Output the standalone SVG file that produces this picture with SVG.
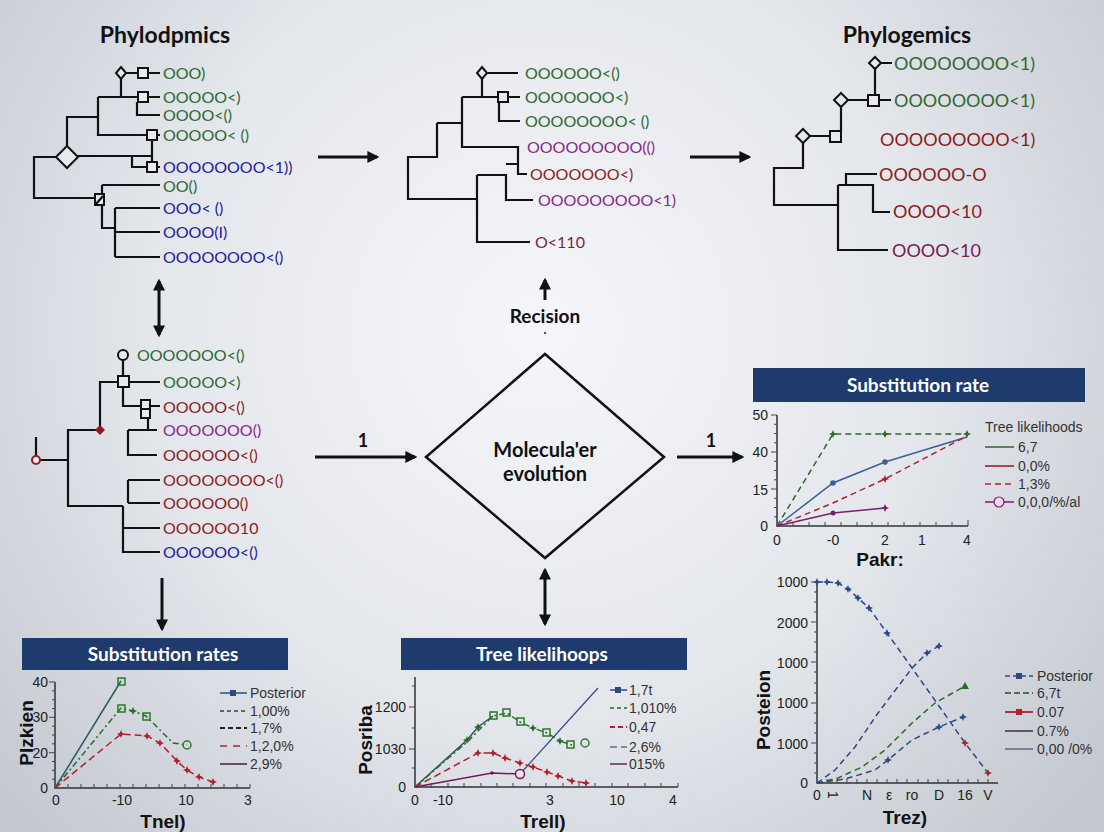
<svg xmlns="http://www.w3.org/2000/svg" xmlns:xlink="http://www.w3.org/1999/xlink" width="1104" height="832" viewBox="0 0 1104 832">
<defs>
<radialGradient id="bg" cx="540" cy="330" r="720" gradientUnits="userSpaceOnUse">
<stop offset="0" stop-color="#f5f6f9"/>
<stop offset="0.55" stop-color="#e3e6eb"/>
<stop offset="1" stop-color="#c3c7cf"/>
</radialGradient>
<marker id="ah" viewBox="0 0 10 10" refX="8" refY="5" markerWidth="4" markerHeight="4" orient="auto-start-reverse">
<path d="M0,0 L10,5 L0,10 Z" fill="#111"/>
</marker>
<path id="star" d="M0,-4 L1.2,-1.2 4,0 1.2,1.2 0,4 -1.2,1.2 -4,0 -1.2,-1.2Z"/>
<rect id="sq" x="-3" y="-3" width="6" height="6"/>
<style>
.ttl{font-family:Lato,"Open Sans",sans-serif;font-weight:bold;fill:#111}
.leaf{font-family:Lato,"Open Sans",sans-serif;font-size:16px}
.big{font-size:18px}
.g{fill:#2e6a32}.b{fill:#1d1d9e}.r{fill:#8c1c22}.p{fill:#8a2a8a}.pr{fill:#7b1c4c}
.tr{stroke:#111;stroke-width:2.2;fill:none}
.mk{fill:#e8eaee;stroke:#111;stroke-width:2}
.con{stroke:#111;stroke-width:3;fill:none}
.ban{fill:#1f3a6d}
.bt{font-family:Lato,"Open Sans",sans-serif;font-weight:bold;font-size:19px;fill:#fff;text-anchor:middle}
.ax{stroke:#333;stroke-width:1.5;fill:none}
.tk{stroke:#444;stroke-width:1;fill:none}
.al{font-family:"Liberation Sans",Arial,sans-serif;font-size:14px;fill:#222}
.lg{font-family:"Liberation Sans",Arial,sans-serif;font-size:14px;fill:#333}
.at{font-family:"Liberation Sans",Arial,sans-serif;font-weight:bold;font-size:19px;fill:#111;text-anchor:middle}
.d{fill:none;stroke-width:1.5}
</style>
</defs>
<rect width="1104" height="832" fill="url(#bg)"/>

<!-- Top-left tree -->
<g id="tree-phylodpmics">
<text class="ttl" x="165" y="43" font-size="23" text-anchor="middle">Phylodpmics</text>
<path class="tr" d="M121,78V97M98,97H139M148,97H160M137,102V115H160M98,97V135H147M157,135H160M98,117H67V147M77,156H152M152,140V162M132,156V167H147M157,167H160M57,157H34V198H95M102,185H160M102,185V228H115M115,208V257M115,208H160M115,232H160M115,257H160M126,73H138M148,73H160"/>
<path class="mk" d="M121,67L126,73L121,79L116,73Z"/>
<rect class="mk" x="138" y="68" width="10" height="10"/>
<rect class="mk" x="138" y="92" width="10" height="10"/>
<rect class="mk" x="147" y="130" width="10" height="10"/>
<rect class="mk" x="147" y="162" width="10" height="10"/>
<path class="mk" d="M67,146L78,157L67,168L56,157Z"/>
<rect class="mk" x="95" y="194" width="9" height="11"/>
<path class="tr" d="M96,204L103,196"/>
<text class="leaf g" x="163" y="79">OOO)</text>
<text class="leaf g" x="163" y="103">OOOOO&lt;)</text>
<text class="leaf g" x="163" y="121">OOOO&lt;()</text>
<text class="leaf g" x="163" y="141">OOOOO&lt; ()</text>
<text class="leaf b" x="163" y="173">OOOOOOOO&lt;1))</text>
<text class="leaf g" x="163" y="192">OO()</text>
<text class="leaf b" x="163" y="214">OOO&lt; ()</text>
<text class="leaf b" x="163" y="238">OOOO(I)</text>
<text class="leaf b" x="163" y="263">OOOOOOOO&lt;()</text>
</g>

<!-- Top-middle tree -->
<g id="tree-middle">
<path class="tr" d="M487,73H518M482,78V97M462,97H498M508,97H520M499,102V121H520M462,97V147H518V174H527M437,123H462M437,123V157H408V199H477M477,175V242H530M477,175H506V200H533M506,164H518"/>
<path class="mk" d="M482,67L487,73L482,79L477,73Z"/>
<rect class="mk" x="498" y="92" width="10" height="10"/>
<text class="leaf g" x="525" y="79" font-size="16.5">OOOOOO&lt;()</text>
<text class="leaf g" x="525" y="103" font-size="16.5">OOOOOOO&lt;)</text>
<text class="leaf g" x="525" y="127" font-size="16.5">OOOOOOOO&lt; ()</text>
<text class="leaf p" x="527" y="153" font-size="16.5">OOOOOOOOO(()</text>
<text class="leaf r" x="530" y="180" font-size="16.5">OOOOOOO&lt;)</text>
<text class="leaf p" x="538" y="206" font-size="16.5">OOOOOOOOO&lt;1)</text>
<text class="leaf pr" x="535" y="248" font-size="16.5">O&lt;110</text>
</g>

<!-- Top-right tree -->
<g id="tree-phylogemics">
<text class="ttl" x="907" y="43" font-size="23" text-anchor="middle">Phylogemics</text>
<path class="tr" d="M880,63H892M875,68V95M879,100H891M847,100H868M841,106V131M809,136H830M803,142V168H774V205H838M838,185V250H888M838,185H873V212H890M846,185V174H877"/>
<path class="mk" d="M875,57L881,63L875,69L869,63Z"/>
<rect class="mk" x="868" y="95" width="11" height="11"/>
<path class="mk" d="M841,93L848,100L841,107L834,100Z"/>
<rect class="mk" x="830" y="131" width="11" height="11"/>
<path class="mk" d="M803,129L810,136L803,143L796,136Z"/>
<text class="leaf big g" x="894" y="70">OOOOOOOO&lt;1)</text>
<text class="leaf big g" x="894" y="107">OOOOOOOO&lt;1)</text>
<text class="leaf big r" x="880" y="146">OOOOOOOOO&lt;1)</text>
<text class="leaf big r" x="879" y="181">OOOOOO-O</text>
<text class="leaf big r" x="893" y="218">OOOO&lt;10</text>
<text class="leaf big pr" x="892" y="257">OOOO&lt;10</text>
</g>

<!-- Middle-left tree -->
<g id="tree-left">
<path class="tr" d="M123,360V406H160M129,382H160M118,382H100V426M148,418V430M128,430H157M128,430V455H157M96,430H68V506H123M123,506V552H160M123,528H160M36,437V456M40,460H68M128,480V503M128,480H160M128,503H160"/>
<circle cx="123" cy="355" r="5" class="mk"/>
<rect class="mk" x="118" y="376" width="11" height="11"/>
<rect class="mk" x="141" y="400" width="9" height="9"/>
<rect class="mk" x="141" y="409" width="9" height="9"/>
<path d="M100,425L105,430L100,435L95,430Z" fill="#8c1c22"/>
<circle cx="36" cy="460" r="4" fill="#eceef2" stroke="#8c1c22" stroke-width="2"/>
<text class="leaf g" x="137" y="361">OOOOOOO&lt;()</text>
<text class="leaf g" x="163" y="388">OOOOO&lt;)</text>
<text class="leaf r" x="163" y="413">OOOOO&lt;()</text>
<text class="leaf p" x="163" y="436">OOOOOOO()</text>
<text class="leaf r" x="163" y="461">OOOOOO&lt;()</text>
<text class="leaf r" x="163" y="486">OOOOOOOO&lt;()</text>
<text class="leaf r" x="163" y="509">OOOOOO()</text>
<text class="leaf r" x="163" y="534">OOOOOO10</text>
<text class="leaf b" x="163" y="558">OOOOOO&lt;()</text>
</g>

<!-- Central decision node -->
<g id="node-molecular-evolution">
<path d="M545,354L664,457L545,558L426,457Z" fill="none" stroke="#111" stroke-width="2.5"/>
<text class="ttl" x="545" y="457" font-size="20" text-anchor="middle">Molecula'er</text>
<text class="ttl" x="545" y="481" font-size="20" text-anchor="middle">evolution</text>
</g>
<g id="label-recision">
<text class="ttl" x="545" y="323" font-size="19" text-anchor="middle">Recision</text>
<circle cx="545" cy="333" r="1.2" fill="#555"/>
</g>

<!-- Connectors -->
<g id="connectors">
<path class="con" d="M318,157H377" marker-end="url(#ah)"/>
<path class="con" d="M690,157H749" marker-end="url(#ah)"/>
<path class="con" d="M159,281V335" marker-start="url(#ah)" marker-end="url(#ah)"/>
<path class="con" d="M162,578V629" marker-end="url(#ah)"/>
<path class="con" d="M315,457H415" marker-end="url(#ah)"/>
<path class="con" d="M677,457H742" marker-end="url(#ah)"/>
<path class="con" d="M545,300V280" marker-end="url(#ah)"/>
<path class="con" d="M545,570V624" marker-start="url(#ah)" marker-end="url(#ah)"/>
<text class="ttl" x="363" y="447" font-size="18" text-anchor="middle">1</text>
<text class="ttl" x="711" y="447" font-size="18" text-anchor="middle">1</text>
</g>

<!-- Top-right chart -->
<g id="chart-substitution-rate">
<rect class="ban" x="753" y="368" width="332" height="34"/>
<text class="bt" x="918" y="392">Substitution rate</text>
<path class="ax" d="M777,415V526H968"/>
<path class="tk" d="M771,415H777M774,424.3H777M774,433.5H777M774,442.8H777M771,452H777M774,461.3H777M774,470.5H777M774,479.8H777M771,489H777M774,498.3H777M774,507.5H777M774,516.8H777M793,526V522M809,526V522M825,526V522M841,526V522M857,526V522M872,526V522M888,526V522M904,526V522M920,526V522M936,526V522M952,526V522M968,526V520"/>
<g class="al" text-anchor="end">
<text x="768" y="420">50</text><text x="768" y="457">40</text><text x="768" y="495">15</text><text x="768" y="531">0</text>
</g>
<g class="al" text-anchor="middle" font-size="15">
<text x="777" y="545">0</text><text x="833" y="545">-0</text><text x="885" y="545">2</text><text x="922" y="545">1</text><text x="967" y="545">4</text>
</g>
<text class="at" x="880" y="566" font-size="18">Pakr:</text>
<polyline class="d" stroke="#2a6a2a" stroke-dasharray="6,4" points="777,526 833,434 885,434 967,434"/>
<polyline class="d" stroke="#3a5f9a" points="777,526 833,483 885,462 967,437"/>
<polyline class="d" stroke="#b22232" stroke-dasharray="6,4" points="777,526 833,503 885,479 967,436"/>
<polyline class="d" stroke="#7a1f6a" points="777,526 833,513 885,508"/>
<use xlink:href="#star" x="833" y="434" fill="#2a6a2a"/><use xlink:href="#star" x="885" y="434" fill="#2a6a2a"/><use xlink:href="#star" x="967" y="434" fill="#2a6a2a"/>
<circle cx="833" cy="483" r="2.8" fill="#3a5f9a"/><circle cx="885" cy="462" r="2.8" fill="#3a5f9a"/>
<use xlink:href="#star" x="885" y="479" fill="#b22232"/>
<circle cx="833" cy="513" r="2.5" fill="#7a1f6a"/><use xlink:href="#star" x="885" y="508" fill="#7a1f6a"/>
<text class="lg" x="985" y="432">Tree likelihoods</text>
<path d="M985,447H1014" stroke="#2a6a2a" stroke-width="1.5"/>
<path d="M985,466H1014" stroke="#8c1c22" stroke-width="1.5"/>
<path d="M985,484H1014" stroke="#b22232" stroke-width="1.5" stroke-dasharray="6,4"/>
<path d="M985,502H1014" stroke="#7a1f6a" stroke-width="1.5"/>
<circle cx="999" cy="502" r="5" fill="#f2d8ef" stroke="#7a1f6a" stroke-width="1.2"/>
<text class="lg" x="1018" y="452">6,7</text>
<text class="lg" x="1018" y="471">0,0%</text>
<text class="lg" x="1018" y="489">1,3%</text>
<text class="lg" x="1018" y="507">0,0,0/%/al</text>
</g>

<!-- Bottom-right chart -->
<g id="chart-posteion">
<path class="ax" d="M817,582V783H998"/>
<path class="tk" d="M811,582H817M814,592H817M814,602H817M814,612H817M811,622H817M814,632H817M814,642H817M814,652H817M811,662H817M814,672H817M814,683H817M814,693H817M811,703H817M814,713H817M814,723H817M814,733H817M811,743H817M814,753H817M814,763H817M814,773H817M827,783V779M837,783V779M847,783V779M857,783V779M867,783V779M877,783V779M887,783V779M897,783V779M907,783V779M918,783V779M928,783V779M938,783V779M948,783V779M958,783V779M968,783V779M978,783V779M988,783V779"/>
<g class="al" text-anchor="end" font-size="15">
<text x="808" y="587">1000</text><text x="808" y="628">2000</text><text x="808" y="668">1000</text><text x="808" y="708">1000</text><text x="808" y="749">1000</text><text x="808" y="788">0</text>
</g>
<g class="al" font-size="15" text-anchor="middle">
<text x="817" y="800">0</text>
<text transform="translate(833,795) rotate(90)" y="5">1</text>
<text x="867" y="800">N</text>
<text x="889" y="800">ε</text>
<text x="912" y="800">ro</text>
<text x="939" y="800">D</text>
<text x="965" y="800">16</text>
<text x="988" y="800">V</text>
</g>
<text class="at" x="905" y="824">Trez)</text>
<text class="at" transform="translate(770,710) rotate(-90)">Posteion</text>
<polyline class="d" stroke="#2b4b80" stroke-dasharray="6,4" points="817,582 827,582 838,583 848,589 858,598 869,608 887,633 912,668 939,706 965,743 988,773"/>
<polyline class="d" stroke="#2b4b80" stroke-dasharray="6,4" points="817,783 835,770 855,747 878,713 900,684 912,668 927,653 939,646"/>
<polyline class="d" stroke="#2a6a2a" stroke-dasharray="6,4" points="817,783 838,778 862,767 885,750 912,723 935,703 965,686"/>
<polyline class="d" stroke="#2b4b80" stroke-dasharray="6,4" points="817,783 845,779 875,770 888,760 912,740 939,727 963,717"/>
<g fill="#2b4b80">
<use xlink:href="#star" x="817" y="582"/><use xlink:href="#star" x="827" y="582"/><use xlink:href="#star" x="838" y="583"/><use xlink:href="#star" x="848" y="589"/><use xlink:href="#star" x="858" y="598"/><use xlink:href="#star" x="869" y="608"/><use xlink:href="#star" x="887" y="633"/>
<use xlink:href="#star" x="927" y="653"/><use xlink:href="#star" x="939" y="646"/>
<use xlink:href="#star" x="888" y="760"/><use xlink:href="#star" x="939" y="727"/><use xlink:href="#star" x="963" y="717"/>
</g>
<use xlink:href="#star" x="965" y="743" fill="#b02030"/><use xlink:href="#star" x="988" y="773" fill="#b02030"/>
<path d="M965,682L969,689L961,689Z" fill="#2a6a2a"/>
<path d="M1005,676H1033" stroke="#2b4b80" stroke-width="1.5" stroke-dasharray="5,3"/>
<use xlink:href="#sq" x="1019" y="676" fill="#2b4b80"/>
<path d="M1005,693H1033" stroke="#2a4a2a" stroke-width="1.5" stroke-dasharray="6,3"/>
<path d="M1005,712H1033" stroke="#b02030" stroke-width="1.8"/>
<use xlink:href="#sq" x="1019" y="712" fill="#b02030"/>
<path d="M1005,731H1033" stroke="#2a3a2a" stroke-width="1.5"/>
<path d="M1005,749H1033" stroke="#5a6a7a" stroke-width="1.5"/>
<g class="lg" font-size="15">
<text x="1037" y="681">Posterior</text><text x="1037" y="698">6,7t</text><text x="1037" y="717">0.07</text><text x="1037" y="736">0.7%</text><text x="1037" y="754">0,00 /0%</text>
</g>
</g>

<!-- Bottom-left chart -->
<g id="chart-substitution-rates">
<rect class="ban" x="22" y="638" width="266" height="32"/>
<text class="bt" x="163" y="661">Substitution rates</text>
<path class="ax" d="M55,682V788H250"/>
<path class="tk" d="M49,682H55M52,690.8H55M52,699.7H55M52,708.5H55M49,717.3H55M52,726.2H55M52,735H55M52,743.8H55M49,752.7H55M52,761.5H55M52,770.3H55M52,779.2H55M68,788V784M81,788V784M94,788V784M107,788V784M120,788V784M133,788V784M146,788V784M159,788V784M172,788V784M185,788V784M198,788V784M211,788V784M224,788V784M237,788V784M250,788V784"/>
<g class="al" text-anchor="end">
<text x="48" y="687">40</text><text x="48" y="722">30</text><text x="48" y="758">20</text><text x="48" y="793">0</text>
</g>
<g class="al" text-anchor="middle" font-size="15">
<text x="56" y="805">0</text><text x="122" y="805">-10</text><text x="186" y="805">10</text><text x="248" y="805">3</text>
</g>
<text class="at" x="163" y="828">Tnel)</text>
<text class="at" transform="translate(33,733) rotate(-90)">Plzkien</text>
<polyline class="d" stroke="#2a5a5a" points="55,788 121,681"/>
<polyline class="d" stroke="#2a6a2a" stroke-dasharray="6,3,2,3" points="55,788 121,708 133,711 146,716 173,743 187,745"/>
<polyline class="d" stroke="#b02030" stroke-dasharray="7,4" points="55,788 121,734 147,736 160,743 177,761 187,770 199,777 213,782"/>
<rect x="118" y="678" width="7" height="7" fill="none" stroke="#2a7a2a" stroke-width="1.5"/>
<rect x="118" y="705" width="7" height="7" fill="none" stroke="#2a7a2a" stroke-width="1.5"/>
<rect x="143" y="713" width="7" height="7" fill="none" stroke="#2a7a2a" stroke-width="1.5"/>
<use xlink:href="#star" x="133" y="711" fill="#2a6a2a"/>
<circle cx="187" cy="745" r="4" fill="none" stroke="#2a7a2a" stroke-width="1.5"/>
<g fill="#b02030">
<use xlink:href="#star" x="121" y="734"/><use xlink:href="#star" x="147" y="736"/><use xlink:href="#star" x="160" y="743"/><use xlink:href="#star" x="177" y="761"/><use xlink:href="#star" x="187" y="770"/><use xlink:href="#star" x="199" y="777"/><use xlink:href="#star" x="213" y="782"/>
</g>
<path d="M220,693H247" stroke="#2b4b80" stroke-width="1.5"/>
<use xlink:href="#sq" x="233" y="693" fill="#2b4b80"/>
<path d="M220,711H247" stroke="#2a4a2a" stroke-width="1.5" stroke-dasharray="4,3"/>
<path d="M220,728H247" stroke="#222" stroke-width="2" stroke-dasharray="5,3"/>
<path d="M220,746H247" stroke="#b02030" stroke-width="1.5" stroke-dasharray="7,6"/>
<path d="M220,764H247" stroke="#3a1f3a" stroke-width="1.5"/>
<g class="lg" font-size="13.5">
<text x="250" y="698">Posterior</text><text x="250" y="716">1,00%</text><text x="250" y="733">1,7%</text><text x="250" y="751">1,2,0%</text><text x="250" y="769">2,9%</text>
</g>
</g>

<!-- Bottom-middle chart -->
<g id="chart-tree-likelihoods">
<rect class="ban" x="401" y="638" width="286" height="32"/>
<text class="bt" x="542" y="661">Tree likelihoops</text>
<path class="ax" d="M415,677V787H678"/>
<path class="tk" d="M412,686H415M409,707H415M412,728H415M409,749H415M412,768H415M431,787V783M448,787V783M464,787V783M481,787V783M497,787V783M513,787V783M530,787V783M546,787V783M563,787V783M579,787V783M595,787V783M612,787V783M628,787V783M645,787V783M661,787V783M678,787V783"/>
<g class="al" text-anchor="end" font-size="15">
<text x="406" y="712">1200</text><text x="406" y="754">1030</text><text x="406" y="792">0</text>
</g>
<g class="al" text-anchor="middle" font-size="15">
<text x="415" y="805">0</text><text x="443" y="805">-10</text><text x="550" y="805">3</text><text x="617" y="805">10</text><text x="673" y="805">4</text>
</g>
<text class="at" x="543" y="828">Trell)</text>
<text class="at" transform="translate(372,740) rotate(-90)">Posriba</text>
<polyline class="d" stroke="#2a5a5a" points="415,787 467,740 478,727 493,716"/>
<polyline class="d" stroke="#2a6a2a" stroke-dasharray="6,3,2,3" points="415,787 467,742 493,716 507,713 520,722 533,728 547,733 560,741 572,745"/>
<polyline class="d" stroke="#b02030" stroke-dasharray="7,4" points="415,787 478,753 493,753 505,758 520,763 533,767 547,772 558,776 572,781 586,783"/>
<polyline class="d" stroke="#6a1f5a" points="415,787 492,773 520,774"/>
<polyline stroke="#2b4b80" stroke-width="1.2" fill="none" points="520,774 598,688"/>
<g fill="none" stroke="#2a7a2a" stroke-width="1.5">
<rect x="490" y="712" width="7" height="7"/><rect x="503" y="709" width="7" height="7"/><rect x="517" y="718" width="7" height="7"/><rect x="543" y="729" width="7" height="7"/><rect x="567" y="741" width="7" height="7"/>
<circle cx="585" cy="743" r="4"/>
</g>
<g fill="#2a6a2a"><use xlink:href="#star" x="467" y="740"/><use xlink:href="#star" x="478" y="727"/><use xlink:href="#star" x="533" y="728"/><use xlink:href="#star" x="560" y="741"/></g>
<g fill="#b02030">
<use xlink:href="#star" x="478" y="753"/><use xlink:href="#star" x="493" y="753"/><use xlink:href="#star" x="505" y="758"/><use xlink:href="#star" x="520" y="763"/><use xlink:href="#star" x="533" y="767"/><use xlink:href="#star" x="547" y="772"/><use xlink:href="#star" x="558" y="776"/><use xlink:href="#star" x="572" y="781"/><use xlink:href="#star" x="586" y="783"/>
</g>
<circle cx="492" cy="773" r="1.8" fill="#6a1f5a"/>
<circle cx="520" cy="774" r="4.5" fill="#f2e6f0" stroke="#6a1f5a" stroke-width="1.5"/>
<path d="M610,690H627" stroke="#2b4b80" stroke-width="1.5"/>
<use xlink:href="#sq" x="618" y="690" fill="#2b4b80"/>
<path d="M610,708H627" stroke="#2a6a2a" stroke-width="1.5" stroke-dasharray="4,3"/>
<path d="M610,727H627" stroke="#b02030" stroke-width="2" stroke-dasharray="5,3"/>
<path d="M610,747H627" stroke="#5a7090" stroke-width="1.5" stroke-dasharray="7,4"/>
<path d="M610,764H627" stroke="#6a1f5a" stroke-width="1.5"/>
<g class="lg" font-size="15">
<text x="629" y="695">1,7t</text><text x="629" y="713">1,010%</text><text x="629" y="732">0,47</text><text x="629" y="752">2,6%</text><text x="629" y="769">015%</text>
</g>
</g>
</svg>
